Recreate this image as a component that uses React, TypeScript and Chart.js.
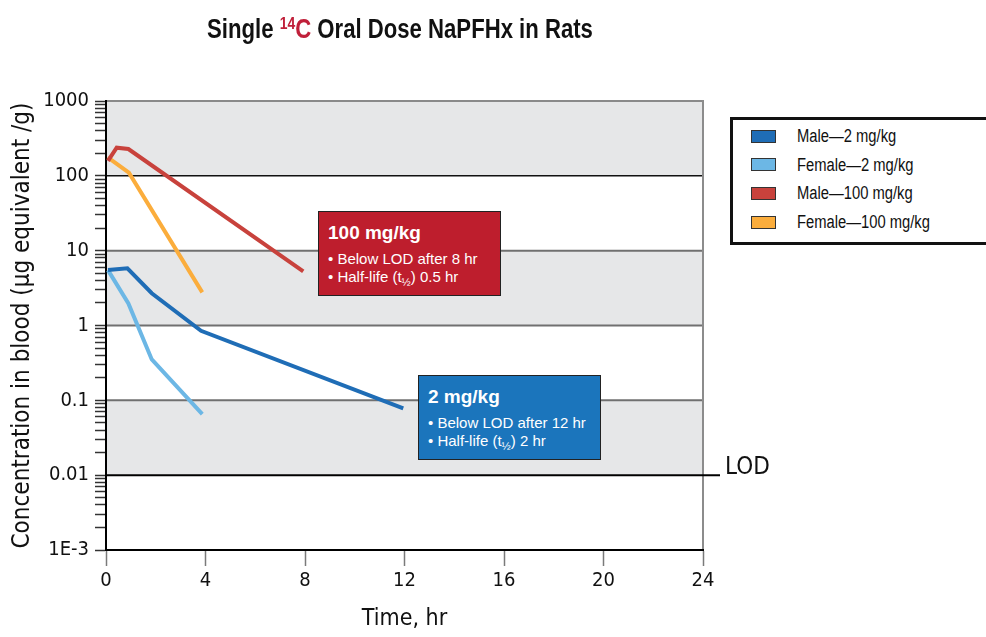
import React, { useEffect, useRef } from 'react';
import { Chart, registerables } from 'chart.js';

Chart.register(...registerables);

const NARROW = "'DejaVu Sans Condensed', 'DejaVu Sans', sans-serif";
const SANS = "'Liberation Sans', Arial, sans-serif";

// ---- data ----
const seriesNames = ['Male\u20142 mg/kg', 'Female\u20142 mg/kg', 'Male\u2014100 mg/kg', 'Female\u2014100 mg/kg'];
const seriesColors = ['#1f6db6', '#6cb7e5', '#c8423c', '#fbad3c'];

const maleLowTime = [0.08, 0.86, 1.84, 3.82, 11.95];
const maleLowConc = [5.5, 5.8, 2.7, 0.85, 0.078];
const femaleLowTime = [0.08, 0.9, 1.84, 3.87];
const femaleLowConc = [5.5, 1.97, 0.352, 0.0655];
const maleHighTime = [0.08, 0.43, 0.9, 7.93];
const maleHighConc = [158, 238, 228, 5.3];
const femaleHighTime = [0.07, 0.92, 3.87];
const femaleHighConc = [177, 110, 2.77];

const xTickValues = [0, 4, 8, 12, 16, 20, 24];
const yDecades = [0.001, 0.01, 0.1, 1, 10, 100, 1000];
const yDecadeLabels = ['1E-3', '0.01', '0.1', '1', '10', '100', '1000'];
const grayBands = [[100, 1000], [1, 10], [0.01, 0.1]];
const lodValue = 0.01;

const annotations = [
  { title: '100 mg/kg', lod: 'Below LOD after 8 hr', half: '0.5 hr', bg: '#be1e2d', left: 318, top: 211 },
  { title: '2 mg/kg', lod: 'Below LOD after 12 hr', half: '2 hr', bg: '#1b75bc', left: 418, top: 375 },
];

const toPoints = (t: number[], v: number[]) => t.map((x, i) => ({ x, y: v[i] }));
const seriesPoints = [
  toPoints(maleLowTime, maleLowConc),
  toPoints(femaleLowTime, femaleLowConc),
  toPoints(maleHighTime, maleHighConc),
  toPoints(femaleHighTime, femaleHighConc),
];

const isDecade = (v: number) => Math.abs(Math.log10(v) - Math.round(Math.log10(v))) < 1e-9;

const bandsPlugin = {
  id: 'bands',
  beforeDraw(chart: any) {
    const { ctx, chartArea: a, scales } = chart;
    const y = scales.y;
    ctx.save();
    ctx.fillStyle = '#e6e7e8';
    for (const [lo, hi] of grayBands) {
      const y1 = y.getPixelForValue(hi);
      const y2 = y.getPixelForValue(lo);
      ctx.fillRect(a.left, y1, a.right - a.left, y2 - y1);
    }
    const lineStyle: Record<string, [string, number]> = {
      '1000': ['#8a8a8a', 2],
      '100': ['#111111', 1.5],
      '10': ['#707070', 2],
      '1': ['#707070', 2],
      '0.1': ['#707070', 2],
    };
    for (const key of Object.keys(lineStyle)) {
      const [c, w] = lineStyle[key];
      const py = y.getPixelForValue(Number(key));
      ctx.strokeStyle = c;
      ctx.lineWidth = w;
      ctx.beginPath();
      ctx.moveTo(a.left, py);
      ctx.lineTo(a.right, py);
      ctx.stroke();
    }
    ctx.strokeStyle = '#8c8c8c';
    ctx.lineWidth = 2;
    ctx.beginPath();
    ctx.moveTo(a.right, a.top - 1);
    ctx.lineTo(a.right, a.bottom);
    ctx.stroke();
    const ly = y.getPixelForValue(lodValue);
    ctx.strokeStyle = '#000';
    ctx.lineWidth = 2;
    ctx.beginPath();
    ctx.moveTo(a.left, ly);
    ctx.lineTo(a.right + 17, ly);
    ctx.stroke();
    ctx.fillStyle = '#111';
    ctx.font = `24px ${NARROW}`;
    ctx.textAlign = 'left';
    ctx.textBaseline = 'middle';
    ctx.fillText('LOD', a.right + 22, ly - 7);
    ctx.restore();
  },
};

export default function App() {
  const ref = useRef<HTMLCanvasElement>(null);

  useEffect(() => {
    if (!ref.current) return;
    const chart = new Chart(ref.current, {
      type: 'line',
      data: {
        datasets: seriesPoints.map((pts, i) => ({
          label: seriesNames[i],
          data: pts,
          borderColor: seriesColors[i],
          backgroundColor: seriesColors[i],
          borderWidth: 4,
          pointRadius: 0,
          tension: 0,
          fill: false,
        })),
      },
      options: {
        animation: false,
        responsive: false,
        devicePixelRatio: 1,
        layout: { padding: { top: 101, right: 283, left: 0, bottom: 0 } },
        plugins: {
          legend: { display: false },
          title: { display: false },
          tooltip: { enabled: false },
        },
        scales: {
          x: {
            type: 'linear',
            min: 0,
            max: 24,
            afterBuildTicks: (s: any) => {
              s.ticks = xTickValues.map((v) => ({ value: v }));
            },
            afterFit: (s: any) => {
              s.height = 87;
            },
            ticks: {
              autoSkip: false,
              maxRotation: 0,
              padding: 3,
              color: '#111',
              font: { family: NARROW, size: 20 },
            },
            grid: {
              drawOnChartArea: false,
              drawTicks: true,
              tickLength: 16,
              tickColor: '#7a7a7a',
              tickWidth: 1.5,
            },
            border: { display: true, color: '#000', width: 2 },
            title: {
              display: true,
              text: 'Time, hr',
              color: '#111',
              font: { family: NARROW, size: 23 },
              padding: { top: 0, bottom: 4 },
            },
          },
          y: {
            type: 'logarithmic',
            min: 0.001,
            max: 1000,
            afterBuildTicks: (s: any) => {
              const vals: number[] = [];
              for (let d = 0; d < yDecades.length; d++) {
                vals.push(yDecades[d]);
                if (d < yDecades.length - 1) {
                  for (let k = 2; k <= 9; k++) vals.push(yDecades[d] * k);
                }
              }
              s.ticks = vals.map((v) => ({ value: v, major: isDecade(v) }));
            },
            afterFit: (s: any) => {
              s.width = 106;
            },
            ticks: {
              autoSkip: false,
              padding: 6,
              color: '#111',
              font: { family: NARROW, size: 20 },
              callback: (value: any) => {
                const v = Number(value);
                if (!isDecade(v)) return '';
                const idx = yDecades.findIndex((d) => Math.abs(d - v) / d < 1e-6);
                return idx >= 0 ? yDecadeLabels[idx] : '';
              },
            },
            grid: {
              drawOnChartArea: false,
              drawTicks: true,
              tickLength: 11,
              tickColor: '#333',
              tickWidth: 1.5,
            },
            border: { display: true, color: '#000', width: 2 },
            title: {
              display: true,
              text: 'Concentration in blood (\u00b5g equivalent /g)',
              color: '#111',
              font: { family: NARROW, size: 24 },
              padding: { top: 8, bottom: 0 },
            },
          },
        },
      },
      plugins: [bandsPlugin],
    } as any);
    return () => chart.destroy();
  }, []);

  return (
    <div style={{ position: 'absolute', left: 0, top: 0, width: 986, height: 637, background: '#fff', overflow: 'hidden' }}>
      <canvas ref={ref} width={986} height={637} style={{ position: 'absolute', left: 0, top: 0, width: 986, height: 637 }} />
      <div
        style={{
          position: 'absolute',
          left: 0,
          top: 16,
          width: 800,
          textAlign: 'center',
          fontFamily: SANS,
          fontWeight: 'bold',
          fontSize: 27,
          lineHeight: '27px',
          color: '#111',
          whiteSpace: 'nowrap',
          transform: 'scaleX(0.82)',
          transformOrigin: '400px 50%',
        }}
      >
        Single{' '}
        <span style={{ color: '#c0203a' }}>
          <span style={{ fontSize: 17, position: 'relative', top: -9 }}>14</span>C
        </span>{' '}
        Oral Dose NaPFHx in Rats
      </div>

      <div
        style={{
          position: 'absolute',
          left: 730,
          top: 117,
          width: 270,
          height: 128,
          boxSizing: 'border-box',
          border: '3px solid #111',
          background: '#fff',
        }}
      />
      {seriesNames.map((name, i) => (
        <React.Fragment key={name}>
          <div
            style={{
              position: 'absolute',
              left: 751,
              top: 129.5 + i * 28.7,
              width: 25,
              height: 13,
              boxSizing: 'border-box',
              border: '1px solid #333',
              background: seriesColors[i],
            }}
          />
          <div
            style={{
              position: 'absolute',
              left: 797,
              top: 125 + i * 28.7,
              fontFamily: SANS,
              fontSize: 18,
              lineHeight: '22px',
              color: '#111',
              whiteSpace: 'nowrap',
              transform: 'scaleX(0.82)',
              transformOrigin: '0 50%',
            }}
          >
            {name}
          </div>
        </React.Fragment>
      ))}

      {annotations.map((a) => (
        <div
          key={a.title}
          style={{
            position: 'absolute',
            left: a.left,
            top: a.top,
            width: 183,
            height: 85,
            boxSizing: 'border-box',
            border: '1.5px solid #222',
            background: a.bg,
            color: '#fff',
            fontFamily: SANS,
            paddingLeft: 9,
            paddingTop: 9,
          }}
        >
          <div style={{ fontWeight: 'bold', fontSize: 19, lineHeight: '24px' }}>{a.title}</div>
          <div style={{ fontSize: 15, lineHeight: '18px', marginTop: 5, whiteSpace: 'nowrap' }}>{'\u2022 ' + a.lod}</div>
          <div style={{ fontSize: 15, lineHeight: '18px', whiteSpace: 'nowrap' }}>
            {'\u2022 Half-life (t'}
            <span style={{ fontSize: 11, position: 'relative', top: 4 }}>{'\u00bd'}</span>
            {') ' + a.half}
          </div>
        </div>
      ))}
    </div>
  );
}
